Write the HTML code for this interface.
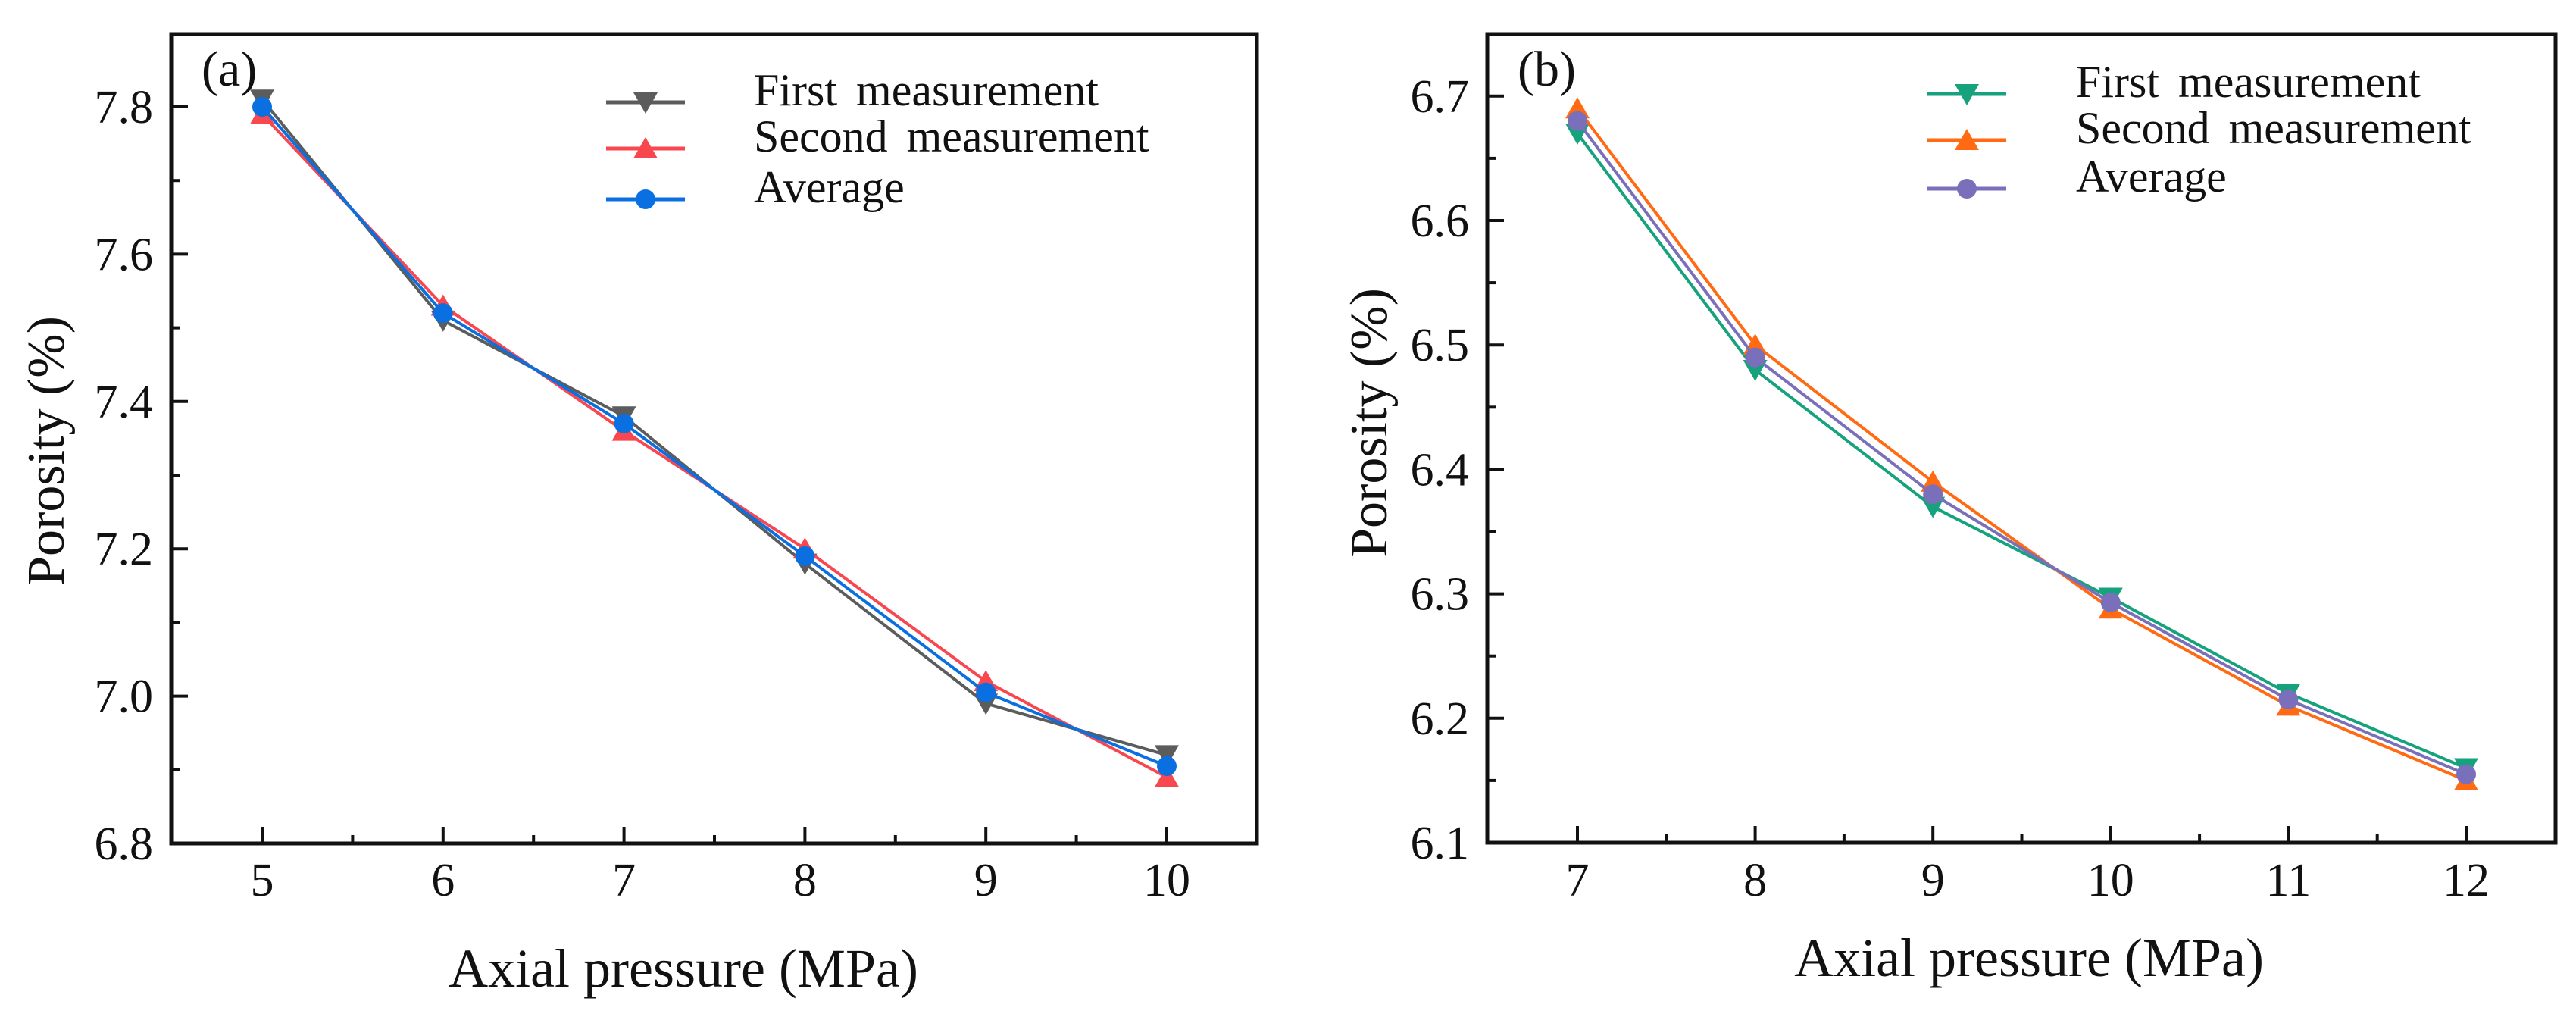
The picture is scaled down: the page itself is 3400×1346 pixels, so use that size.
<!DOCTYPE html>
<html><head><meta charset="utf-8"><style>
html,body{margin:0;padding:0;background:#fff;}
svg{display:block;}
text{font-family:"Liberation Serif",serif;fill:#111;}
</style></head><body>
<svg id="c" width="3400" height="1346" viewBox="0 0 3400 1346" xmlns="http://www.w3.org/2000/svg"></svg>
<script>
// ---- panel (a) data ----
const catsA = [5, 6, 7, 8, 9, 10];
const firstA = [7.81, 7.51, 7.38, 7.18, 6.99, 6.92];
const secondA = [7.79, 7.53, 7.36, 7.20, 7.02, 6.89];
const avgA = [7.80, 7.52, 7.37, 7.19, 7.005, 6.905];
const yTicksA = ["6.8", "7.0", "7.2", "7.4", "7.6", "7.8"];
// ---- panel (b) data ----
const catsB = [7, 8, 9, 10, 11, 12];
const firstB = [6.67, 6.48, 6.37, 6.297, 6.22, 6.16];
const secondB = [6.69, 6.50, 6.39, 6.288, 6.21, 6.15];
const avgB = [6.68, 6.49, 6.38, 6.293, 6.215, 6.155];
const yTicksB = ["6.1", "6.2", "6.3", "6.4", "6.5", "6.6", "6.7"];
const legendLabels = ["First measurement", "Second measurement", "Average"];

const NS = "http://www.w3.org/2000/svg";
const svg = document.getElementById("c");
function mk(tag, attrs, parent, txt) {
  const e = document.createElementNS(NS, tag);
  for (const k in attrs) e.setAttribute(k, attrs[k]);
  if (txt !== undefined) e.textContent = txt;
  (parent || svg).appendChild(e);
  return e;
}
function marker(g, type, x, y, color) {
  let el;
  if (type === "down") el = mk("polygon", {points: `${x-16},${y-13} ${x+16},${y-13} ${x},${y+15}`, fill: color}, g);
  else if (type === "up") el = mk("polygon", {points: `${x-16},${y+13} ${x+16},${y+13} ${x},${y-15}`, fill: color}, g);
  else el = mk("circle", {cx: x, cy: y, r: 13, fill: color}, g);
  return el;
}
function panel(p) {
  const g = mk("g", {});
  
  
  const X = v => p.x0 + (v - p.cats[0]) * p.xs;
  const Y = v => p.yBot - (v - p.yMin) / p.yStep * p.ys;
  p.series.forEach((s, si) => {
    const sg = mk("g", {}, g);
    
    
    const pts = s.vals.map((v, i) => X(p.cats[i]) + "," + Y(v)).join(" ");
    const line = mk("polyline", {points: pts, fill: "none", stroke: s.color, "stroke-width": 4, "stroke-linejoin": "round"}, sg);
    
    
    s.vals.forEach((v, i) => {
      const m = marker(sg, s.type, X(p.cats[i]), Y(v), s.color);
      
      
    });
  });
  const box = mk("rect", {x: p.left, y: p.top, width: p.right - p.left, height: p.yBot - p.top, fill: "none", stroke: "#111", "stroke-width": 5}, g);
  
  
  p.cats.forEach((c, i) => {
    const x = X(c);
    mk("line", {x1: x, x2: x, y1: p.yBot, y2: p.yBot - 22, stroke: "#111", "stroke-width": 4}, g);
    if (i < p.cats.length - 1) {
      const xm = X(c + 0.5);
      mk("line", {x1: xm, x2: xm, y1: p.yBot, y2: p.yBot - 11, stroke: "#111", "stroke-width": 4}, g);
    }
    const t = mk("text", {x: x, y: 1182, "font-size": 62, "text-anchor": "middle"}, g, String(c));
    
    
  });
  p.yTicks.forEach((lab, i) => {
    const v = parseFloat(lab);
    const y = Y(v);
    mk("line", {x1: p.left, x2: p.left + 22, y1: y, y2: y, stroke: "#111", "stroke-width": 4}, g);
    if (i < p.yTicks.length - 1) {
      const ym = Y(v + p.yStep / 2);
      mk("line", {x1: p.left, x2: p.left + 11, y1: ym, y2: ym, stroke: "#111", "stroke-width": 4}, g);
    }
    const t = mk("text", {x: p.left - 24, y: y + 21, "font-size": 62, "text-anchor": "end"}, g, lab);
    
    
  });
  const pl = mk("text", {x: p.left + 40, y: 113, "font-size": 66}, g, p.tag);
  
  
  const xt = mk("text", {x: p.xTitleX, y: p.xTitleY, "font-size": 72, "text-anchor": "middle"}, g, "Axial pressure (MPa)");
  
  
  const yt = mk("text", {x: 0, y: 0, "font-size": 70, "text-anchor": "middle", transform: `translate(${p.yTitleX},${p.yTitleY}) rotate(-90)`}, g, "Porosity (%)");
  
  
  const lg = mk("g", {}, g);
  
  
  p.series.forEach((s, i) => {
    const y = p.legY[i];
    const e = mk("g", {}, lg);
    
    
    mk("line", {x1: p.legX - 52, x2: p.legX + 52, y1: y, y2: y, stroke: s.color, "stroke-width": 5}, e);
    marker(e, s.type, p.legX, y, s.color);
    mk("text", {x: p.legTextX, y: y + 4, "font-size": 60, "word-spacing": 10}, e, legendLabels[i]);
  });
}
panel({name: "panel-a", tag: "(a)", cats: catsA, x0: 346, xs: 238.8, left: 226, right: 1659, top: 45, yBot: 1113,
  yMin: 6.8, yStep: 0.2, ys: 194.4, yTicks: yTicksA,
  xTitleX: 902, xTitleY: 1302, yTitleX: 84, yTitleY: 595,
  legX: 852, legTextX: 995, legY: [135, 196, 263],
  series: [
    {name: "first-measurement-a", vals: firstA, color: "#5c5c5c", type: "down"},
    {name: "second-measurement-a", vals: secondA, color: "#f8474f", type: "up"},
    {name: "average-a", vals: avgA, color: "#0a6fe0", type: "circle"}]});
panel({name: "panel-b", tag: "(b)", cats: catsB, x0: 2082, xs: 234.6, left: 1963, right: 3373, top: 45, yBot: 1112,
  yMin: 6.1, yStep: 0.1, ys: 164.2, yTicks: yTicksB,
  xTitleX: 2678, xTitleY: 1288, yTitleX: 1830, yTitleY: 558,
  legX: 2596, legTextX: 2740, legY: [124, 185, 249],
  series: [
    {name: "first-measurement-b", vals: firstB, color: "#16a27c", type: "down"},
    {name: "second-measurement-b", vals: secondB, color: "#ff6a12", type: "up"},
    {name: "average-b", vals: avgB, color: "#7a6fbb", type: "circle"}]});
</script>
</body></html>
